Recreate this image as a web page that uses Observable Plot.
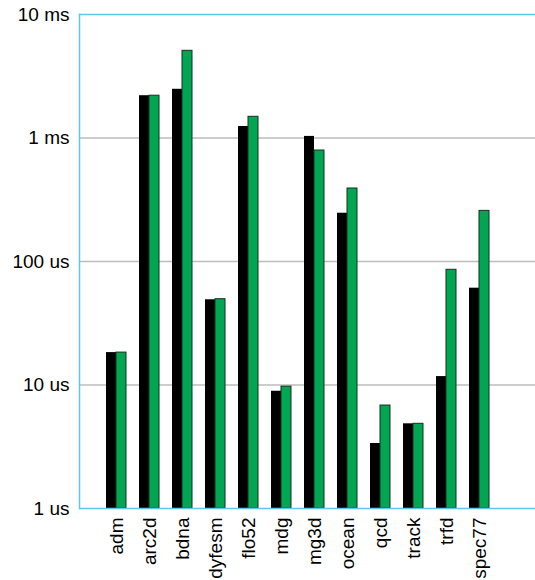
<!DOCTYPE html>
<html>
<head>
<meta charset="utf-8">
<script src="https://cdn.jsdelivr.net/npm/d3@7"></script>
<script src="https://cdn.jsdelivr.net/npm/@observablehq/plot@0.6"></script>
<style>
  body { margin: 0; background: #fff; }
  svg { font-family: "Liberation Sans", Arial, sans-serif; }
</style>
</head>
<body>
<div id="chart"></div>
<script>
const programs = ["adm", "arc2d", "bdna", "dyfesm", "flo52", "mdg", "mg3d", "ocean", "qcd", "track", "trfd", "spec77"];
// times in microseconds
const seriesBlack = [18.3, 2200, 2480, 49, 1240, 8.9, 1030, 246, 3.36, 4.85, 11.7, 60.8];
const seriesGreen = [18.3, 2200, 5080, 49.5, 1485, 9.7, 792, 390, 6.82, 4.85, 85.7, 257];
const yTicks = [1, 10, 100, 1000, 10000];
const yTickLabels = ["1 us", "10 us", "100 us", "1 ms", "10 ms"];
const gridTicks = [10, 100, 1000];

const black = programs.map((p, i) => ({program: p, value: seriesBlack[i]}));
const green = programs.map((p, i) => ({program: p, value: seriesGreen[i]}));

const blue = "#5cc8ef";

const chart = Plot.plot({
  width: 535,
  height: 580,
  marginLeft: 79,
  marginRight: 0,
  marginTop: 14,
  marginBottom: 72,
  style: {fontSize: "19px", fontFamily: "Liberation Sans, Arial, sans-serif", color: "#000"},
  x: {type: "band", domain: programs, range: [97.3, 498.1], paddingInner: 0.4, paddingOuter: 0.2, label: null},
  y: {type: "log", domain: [1, 10000], label: null},
  marks: [
    Plot.ruleY(gridTicks, {stroke: "#bdbdbd", strokeWidth: 1.5}),
    Plot.barY(black, {x: "program", y1: 1, y2: "value", fill: "#000", insetRight: 10}),
    Plot.barY(green, {x: "program", y1: 1, y2: "value", fill: "#00a651", stroke: "#16301f", strokeWidth: 1, insetLeft: 10}),
    Plot.ruleY([1, 10000], {stroke: blue, strokeWidth: 1.5}),
    Plot.frame({anchor: "left", stroke: blue, strokeWidth: 1.5}),
    Plot.axisY({ticks: yTicks, tickSize: 0, tickPadding: 10, tickFormat: (d) => yTickLabels[yTicks.indexOf(d)], fontSize: 19, label: null}),
    Plot.axisX({tickSize: 0, tickPadding: 9, tickRotate: -90, fontSize: 19, label: null})
  ]
});
document.getElementById("chart").appendChild(chart);
</script>
</body>
</html>
